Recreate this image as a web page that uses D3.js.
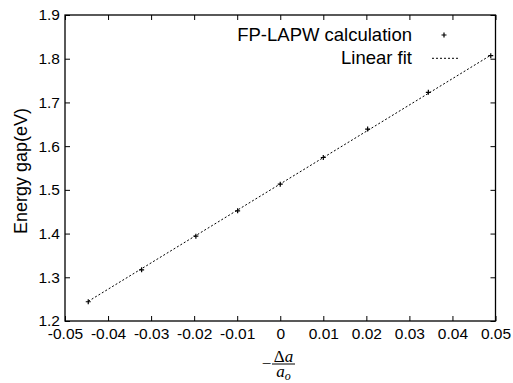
<!DOCTYPE html>
<html>
<head>
<meta charset="utf-8">
<script src="https://cdn.jsdelivr.net/npm/d3@7"></script>
<style>
  body { margin: 0; background: #fff; }
  svg { display: block; }
  text { font-family: "Liberation Sans", Arial, sans-serif; fill: #000; }
</style>
</head>
<body>
<script>
// FP-LAPW points (strain -Δa/a0, gap in eV)
var strain = [-0.0446, -0.0322, -0.0196, -0.0099, 0, 0.01, 0.0203, 0.0344, 0.0489];
var gap = [1.244, 1.317, 1.394, 1.452, 1.513, 1.574, 1.639, 1.723, 1.807];

// linear fit, drawn between its two end points
var fitX = [-0.0446, 0.0489];
var fitY = [1.245, 1.808];

var xTicks = [-0.05, -0.04, -0.03, -0.02, -0.01, 0, 0.01, 0.02, 0.03, 0.04, 0.05];
var yTicks = [1.2, 1.3, 1.4, 1.5, 1.6, 1.7, 1.8, 1.9];

var seriesNames = ["FP-LAPW calculation", "Linear fit"];

var margin = { top: 15, right: 17.5, bottom: 62, left: 65 },
    width = 513 - margin.left - margin.right,
    height = 383 - margin.top - margin.bottom;

var x = d3.scaleLinear().domain([-0.05, 0.05]).range([0, width]);
var y = d3.scaleLinear().domain([1.2, 1.9]).range([height, 0]);

var svg = d3.select("body").append("svg")
  .attr("width", 513)
  .attr("height", 383)
  .append("g")
  .attr("transform", "translate(" + margin.left + "," + margin.top + ")");

function fmtX(d) { return d === 0 ? "0" : d.toFixed(2); }
function fmtY(d) { return d.toFixed(1); }

var tick = 5;

svg.append("g")
  .attr("transform", "translate(0," + height + ")")
  .call(d3.axisBottom(x).tickValues(xTicks).tickFormat(fmtX).tickSize(-tick).tickPadding(7))
  .call(function(g) { g.select(".domain").remove(); });

svg.append("g")
  .call(d3.axisTop(x).tickValues(xTicks).tickFormat("").tickSize(-tick))
  .call(function(g) { g.select(".domain").remove(); });

svg.append("g")
  .call(d3.axisLeft(y).tickValues(yTicks).tickFormat(fmtY).tickSize(-tick).tickPadding(5))
  .call(function(g) { g.select(".domain").remove(); });

svg.append("g")
  .attr("transform", "translate(" + width + ",0)")
  .call(d3.axisRight(y).tickValues(yTicks).tickFormat("").tickSize(-tick))
  .call(function(g) { g.select(".domain").remove(); });

svg.selectAll(".tick line").attr("stroke", "#000");
svg.selectAll(".tick text")
  .attr("fill", "#000")
  .style("font-family", '"Liberation Sans", Arial, sans-serif')
  .style("font-size", "15.5px");

svg.append("rect")
  .attr("width", width)
  .attr("height", height)
  .attr("fill", "none")
  .attr("stroke", "#000")
  .attr("stroke-width", 1.3);

// fit line
var fit = fitX.map(function(d, i) { return [d, fitY[i]]; });
svg.append("path")
  .datum(fit)
  .attr("fill", "none")
  .attr("stroke", "#000")
  .attr("stroke-width", 1)
  .attr("stroke-dasharray", "2,2")
  .attr("d", d3.line().x(function(d) { return x(d[0]); }).y(function(d) { return y(d[1]); }));

// points
var plus = "M-2.5,0H2.5M0,-2.5V2.5";
svg.selectAll(".pt")
  .data(strain)
  .enter().append("path")
  .attr("class", "pt")
  .attr("transform", function(d, i) { return "translate(" + x(d) + "," + y(gap[i]) + ")"; })
  .attr("d", plus)
  .attr("stroke", "#000")
  .attr("stroke-width", 1.2);

// legend
var leg = svg.append("g").attr("transform", "translate(" + (412 - margin.left) + ",0)");
leg.append("text").attr("x", 0).attr("y", 41 - margin.top)
  .attr("text-anchor", "end").style("font-size", "18.5px").text(seriesNames[0]);
leg.append("text").attr("x", 0).attr("y", 64 - margin.top)
  .attr("text-anchor", "end").style("font-size", "18.5px").text(seriesNames[1]);
leg.append("path").attr("d", plus)
  .attr("transform", "translate(32," + (35 - margin.top) + ")")
  .attr("stroke", "#000").attr("stroke-width", 1.2);
leg.append("line")
  .attr("x1", 20).attr("x2", 48)
  .attr("y1", 58.3 - margin.top).attr("y2", 58.3 - margin.top)
  .attr("stroke", "#000").attr("stroke-dasharray", "2,2");

// y title
svg.append("text")
  .attr("transform", "translate(" + (26.5 - margin.left) + "," + (height / 2 + 3) + ") rotate(-90)")
  .attr("text-anchor", "middle")
  .style("font-size", "18px")
  .text("Energy gap(eV)");

// x title: -Δa/a_o
var xt = svg.append("g")
  .attr("transform", "translate(" + (283.5 - margin.left) + "," + (364 - margin.top) + ")")
  .style("font-family", '"Liberation Serif", "Times New Roman", serif')
  .style("font-size", "17px");
xt.append("text").attr("x", -17).attr("y", 5).attr("text-anchor", "middle")
  .style("font-family", '"Liberation Serif", serif').text("\u2212");
var num = xt.append("text").attr("x", 0).attr("y", -2.5).attr("text-anchor", "middle")
  .style("font-family", '"Liberation Serif", serif');
num.append("tspan").text("\u0394");
num.append("tspan").style("font-style", "italic").text("a");
xt.append("line").attr("x1", -11.5).attr("x2", 11.5).attr("y1", 0).attr("y2", 0)
  .attr("stroke", "#000").attr("stroke-width", 1);
var den = xt.append("text").attr("x", 0).attr("y", 12.5).attr("text-anchor", "middle")
  .style("font-family", '"Liberation Serif", serif');
den.append("tspan").style("font-style", "italic").text("a");
den.append("tspan").style("font-style", "italic").style("font-size", "12px").attr("dy", 3).text("o");
</script>
</body>
</html>
